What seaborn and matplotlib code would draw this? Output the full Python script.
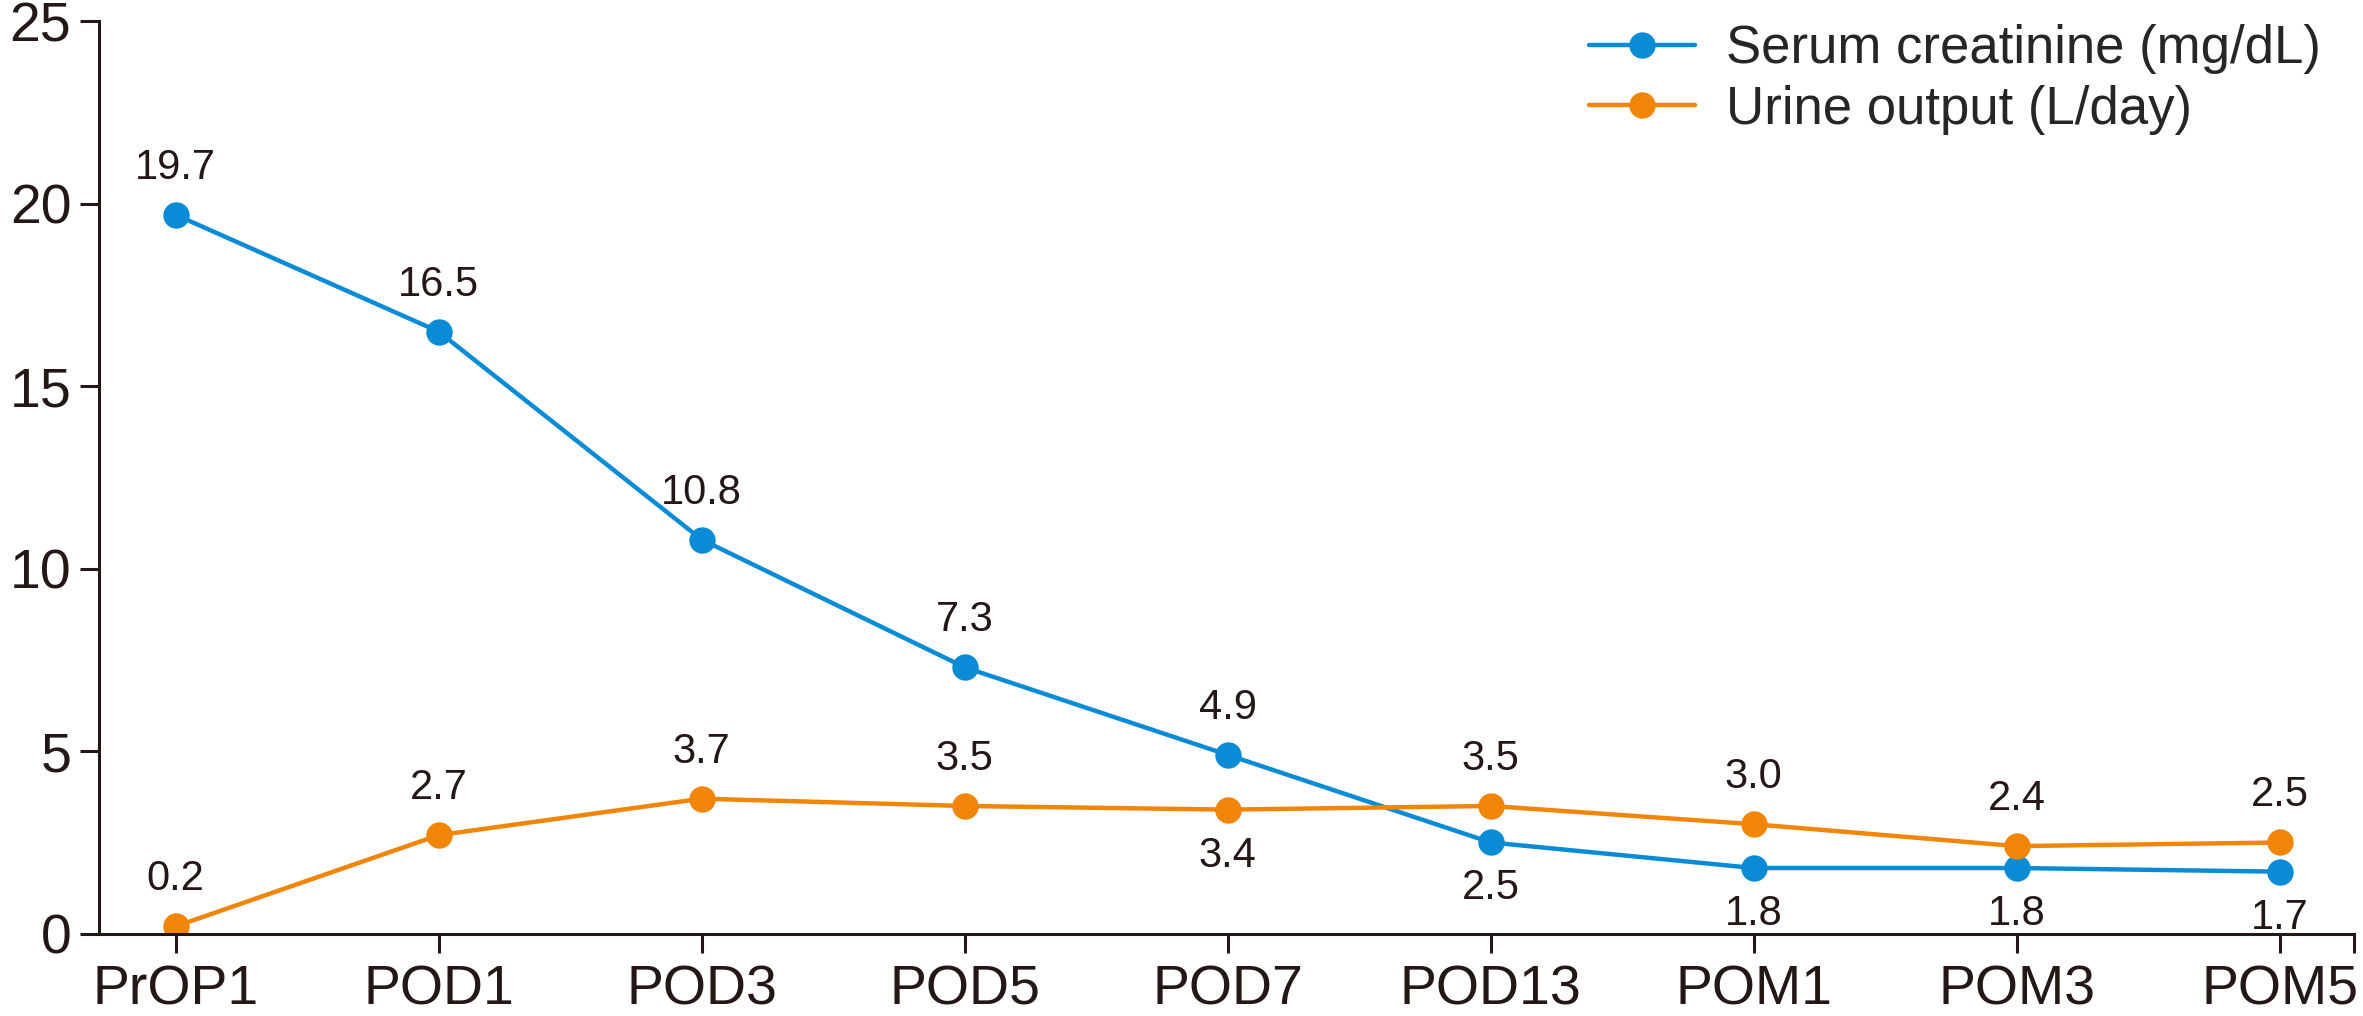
import numpy as np
import pandas as pd
import matplotlib as mpl
import matplotlib.pyplot as plt
plt.switch_backend('Agg')
import seaborn as sns

timepoints = ["PrOP1", "POD1", "POD3", "POD5", "POD7", "POD13", "POM1", "POM3", "POM5"]
creatinine = [19.7, 16.5, 10.8, 7.3, 4.9, 2.5, 1.8, 1.8, 1.7]
urine = [0.2, 2.7, 3.7, 3.5, 3.4, 3.5, 3.0, 2.4, 2.5]
# label goes below the point where True
creat_below = [False, False, False, False, False, True, True, True, True]
urine_below = [False, False, False, False, True, False, False, False, False]

s1 = "Serum creatinine (mg/dL)"
s2 = "Urine output (L/day)"
df = pd.concat([
    pd.DataFrame({"Time": timepoints, "Value": creatinine, "Series": s1}),
    pd.DataFrame({"Time": timepoints, "Value": urine, "Series": s2}),
])

sns.set_style("ticks")
plt.rcParams['font.family'] = ['Liberation Sans', 'DejaVu Sans']
ink = "#231815"

fig = plt.figure(figsize=(23.63, 10.16), dpi=100)
ax = fig.add_axes([0.042, 0.081, 0.954, 0.898])

mypalette = {s1: "#0a8bd6", s2: "#f08508"}
sns.lineplot(ax=ax, data=df, x="Time", y="Value", hue="Series", palette=mypalette,
             marker="o", markersize=19, markeredgewidth=0, linewidth=3.2, sort=False)

for vals, below in [(creatinine, creat_below), (urine, urine_below)]:
    for i, (v, b) in enumerate(zip(vals, below)):
        ax.annotate(f"{v:.1f}", xy=(i, v), xytext=(0, -46 if b else 47), textcoords="offset pixels",
                    ha="center", va="center", fontsize=30, color=ink)

ax.set_ylim(0, 25)
ax.set_xlim(-0.29, 8.28)
ax.set_xticks([8.28], minor=True)
ax.yaxis.set_major_locator(mpl.ticker.MultipleLocator(5))
ax.set_xlabel("")
ax.set_ylabel("")
sns.despine(ax=ax)
for sp in ["left", "bottom"]:
    ax.spines[sp].set_color(ink)
    ax.spines[sp].set_linewidth(2.2)
ax.tick_params(axis='both', which='both', labelsize=40, colors=ink, width=2.2, length=14, pad=8)
ax.tick_params(axis='y', pad=6)

ax.legend(loc="upper right", bbox_to_anchor=(0.995, 1.02), frameon=False, fontsize=38,
          handlelength=2.0, handletextpad=0.6, labelspacing=0.2, borderaxespad=0)

fig.savefig("out.png", dpi=100)
